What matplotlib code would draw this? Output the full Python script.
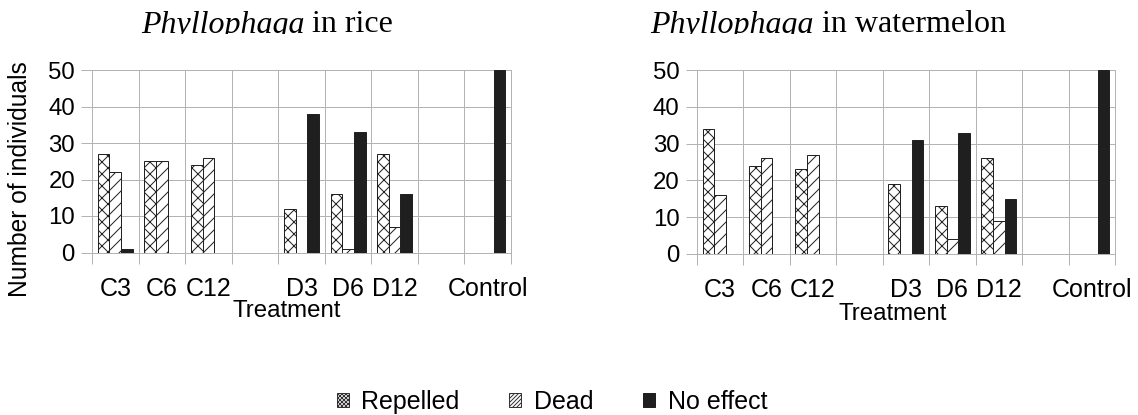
import numpy as np
import matplotlib.pyplot as plt
from matplotlib.patches import Patch
from matplotlib.transforms import Bbox, TransformedBbox

# data
categories = ['C3', 'C6', 'C12', '', 'D3', 'D6', 'D12', '', 'Control']
series = ['Repelled', 'Dead', 'No effect']
rice_repelled = [27, 25, 24, 0, 12, 16, 27, 0, 0]
rice_dead = [22, 25, 26, 0, 0, 1, 7, 0, 0]
rice_no_effect = [1, 0, 0, 0, 38, 33, 16, 0, 50]
melon_repelled = [34, 24, 23, 0, 19, 13, 26, 0, 0]
melon_dead = [16, 26, 27, 0, 0, 4, 9, 0, 0]
melon_no_effect = [0, 0, 0, 0, 31, 33, 15, 0, 50]
y_ticks = [0, 10, 20, 30, 40, 50]

W, H, DPI = 1138, 415, 72
plt.rcParams['font.family'] = ['Liberation Sans', 'DejaVu Sans']
plt.rcParams['hatch.linewidth'] = 1.0

grid_c = '#b3b3b3'
edge_c = '#222222'
styles = [dict(facecolor='white', hatch='xx'),
          dict(facecolor='white', hatch='//'),
          dict(facecolor='#1f1f1f')]

fig = plt.figure(figsize=(W / DPI, H / DPI), dpi=DPI)


def px_axes(x0, x1, ytop, ybot):
    return fig.add_axes([x0 / W, 1 - ybot / H, (x1 - x0) / W, (ybot - ytop) / H])


def draw_panel(ax, values):
    x = np.arange(len(categories))
    for k, (vals, st) in enumerate(zip(values, styles)):
        v = np.array(vals, dtype=float)
        m = v > 0
        ax.bar(x[m] + (k - 1) * 0.25, v[m], width=0.25, edgecolor=edge_c,
               linewidth=1, zorder=3, **st)
    ax.set_xlim(-0.5, len(categories) - 0.5)
    ax.set_ylim(0, 50)
    ax.set_xticks(x)
    ax.set_xticklabels(categories)
    ax.set_xticks(np.arange(-0.5, len(categories), 1), minor=True)
    ax.tick_params(axis='x', which='major', length=0, pad=24, labelsize=25)
    ax.tick_params(axis='x', which='minor', length=11, color=grid_c, width=1)
    ax.set_yticks(y_ticks)
    ax.tick_params(axis='y', length=11, color=grid_c, width=1, pad=6, labelsize=24)
    ax.grid(axis='x', which='minor', color=grid_c, lw=1)
    ax.grid(axis='y', which='major', color=grid_c, lw=1)
    ax.set_axisbelow(True)
    for s in ax.spines.values():
        s.set_color(grid_c)
        s.set_linewidth(1)
    ax.set_xlabel('Treatment', fontsize=24)


ax1 = px_axes(92, 511, 70, 252.5)
draw_panel(ax1, [rice_repelled, rice_dead, rice_no_effect])
ax1.xaxis.set_label_coords(0.465, -0.258)
ax1.set_ylabel('Number of individuals', fontsize=24.5, va='center')
ax1.yaxis.set_label_coords(-0.171, 0.403)

ax2 = px_axes(696.7, 1115, 70, 254)
draw_panel(ax2, [melon_repelled, melon_dead, melon_no_effect])
ax2.xaxis.set_label_coords(0.468, -0.265)

# titles: italic genus + roman rest, clipped just under the baseline like the source
clip = TransformedBbox(Bbox.from_extents(0, 1 - 33.5 / H, 1, 1), fig.transFigure)
for x0, rest in [(141, ' in rice'), (650, ' in watermelon')]:
    t1 = fig.text(x0 / W, 1 - 32.5 / H, 'Phyllophaga', family='Liberation Serif',
                  style='italic', fontsize=32, va='baseline', ha='left')
    t2 = plt.annotate(rest, xy=(1, 0), xycoords=t1, va='bottom', ha='left',
                      family='Liberation Serif', fontsize=32)
    for t in (t1, t2):
        t.set_clip_box(clip)
        t.set_clip_on(True)

handles = [Patch(facecolor='white', edgecolor='#333333', hatch='xxxxxx', lw=1),
           Patch(facecolor='white', edgecolor='#333333', hatch='//////', lw=1),
           Patch(facecolor='#1f1f1f', edgecolor='#1f1f1f', lw=1)]
fig.legend(handles, series, loc='center', bbox_to_anchor=(552 / W, 1 - 402 / H),
           ncol=3, frameon=False, fontsize=25, handlelength=0.48, handleheight=0.48,
           handletextpad=0.5, columnspacing=2.0, borderpad=0)

fig.savefig('out.png', dpi=DPI)
